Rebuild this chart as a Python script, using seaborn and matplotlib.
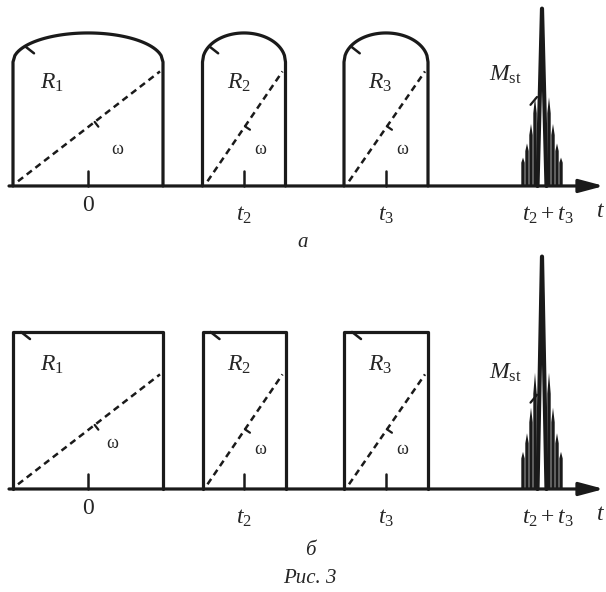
import numpy as np
import matplotlib.pyplot as plt
import seaborn as sns

# pulse centres and widths (time units, 0 at the first pulse)
pulse_centers = [0.0, 1.56, 2.98]
pulse_widths = [1.50, 0.83, 0.84]
pulse_names = ['$R_1$', '$R_2$', '$R_3$']
tick_labels = ['0', '$t_2$', '$t_3$']
spike_center = 4.54
spike_label = '$t_2+t_3$'

# panel a: rounded tops, panel б: flat tops
side_height_a = 0.79
arc_peak_a = 0.975
rect_height_b = 1.0

# output spike: side lobes (offset, fraction of peak) and main peak height
lobe_offsets = [-0.19, -0.15, -0.11, -0.07, 0.07, 0.11, 0.15, 0.19]
lobe_heights = [0.16, 0.24, 0.35, 0.50, 0.50, 0.35, 0.24, 0.16]
peak_a = 1.13
peak_b = 1.48

sns.set_theme(style='white')
plt.rcParams['font.family'] = ['Liberation Serif', 'DejaVu Serif']
plt.rcParams['mathtext.fontset'] = 'custom'
plt.rcParams['mathtext.rm'] = 'Liberation Serif'
plt.rcParams['mathtext.it'] = 'Liberation Serif:italic'

PX_X, PX_Y = 100.0, 157.0  # pixels per unit
LW = 2.3


def line(ax, xs, ys, **kw):
    sns.lineplot(x=np.asarray(xs, float), y=np.asarray(ys, float), sort=False,
                 estimator=None, color='k', lw=kw.pop('lw', LW), ax=ax, **kw)


def draw_panel(ax, rounded, peak, name_y, omega_y, mst_y):
    ax.set_xlim(-0.88, 5.18)
    ax.axis('off')

    for i, (c, w) in enumerate(zip(pulse_centers, pulse_widths)):
        l, r = c - w / 2, c + w / 2
        if rounded:
            u = np.linspace(-1, 1, 80)
            arc = side_height_a + (arc_peak_a - side_height_a) * np.sqrt(1 - u ** 2)
            xs = np.r_[l, c + u * w / 2, r]
            ys = np.r_[0, arc, 0]
            ux = -1 + 2 * 0.08
            tx0 = c + ux * w / 2
            ty0 = side_height_a + (arc_peak_a - side_height_a) * np.sqrt(1 - ux ** 2)
        else:
            top = rect_height_b
            xs = [l, l, r, r]
            ys = [0, top, top, 0]
            tx0, ty0 = l + 0.08, top
        line(ax, xs, ys)
        # small mark at the top-left corner
        line(ax, [tx0, tx0 + 0.09], [ty0, ty0 - 0.045], lw=1.8)

        # dashed phase line with its small cross mark
        x0, y0 = l + 0.05, 0.03
        x1, y1 = r - 0.03, 0.73
        line(ax, [x0, x1], [y0, y1], lw=1.8, linestyle=(0, (2.6, 1.8)))
        f = 0.5 if i else 0.54
        mx, my = x0 + f * (x1 - x0), y0 + f * (y1 - y0)
        dx, dy = (x1 - x0) * PX_X, (y1 - y0) * PX_Y
        n = np.hypot(dx, dy)
        px, py = dy / n * 6, -dx / n * 6
        line(ax, [mx, mx + px / PX_X], [my, my + py / PX_Y], lw=1.6)
        off = 0.29 if i == 0 else 0.16
        if not rounded and i == 0:
            off = 0.24
        ax.text(c + off, omega_y if i == 0 or rounded else omega_y - 0.04,
                'ω', ha='center', va='center', fontsize=13)

        # time tick and labels
        line(ax, [c, c], [0, 0.095], lw=1.8)
        ax.text(c, -0.185 if i else -0.125, tick_labels[i], ha='center',
                va='center', fontsize=17)
        nx = l + (0.39 if i == 0 else 0.36)
        ax.text(nx, name_y, pulse_names[i], ha='center', va='center', fontsize=17)

    # output spike: side lobes as thin filled peaks, main peak as outline
    for o, h in zip(lobe_offsets, lobe_heights):
        x = spike_center + o
        hh = h * peak
        ax.fill([x - 0.017, x - 0.017, x, x + 0.017, x + 0.017],
                [0, hh * 0.82, hh, hh * 0.82, 0], color='k', lw=0)
    line(ax, [spike_center - 0.045, spike_center, spike_center + 0.045],
         [0, peak, 0], lw=3.0)
    line(ax, [spike_center - 0.018, spike_center, spike_center + 0.018],
         [0.55 * peak, peak, 0.55 * peak], lw=2.0)

    ax.text(4.17, mst_y, r'$M_{\mathrm{st}}$', ha='center', va='center', fontsize=17)
    line(ax, [4.425, 4.49], [mst_y - 0.19, mst_y - 0.14], lw=1.6)

    # time axis with arrow
    ax.annotate('', xy=(5.16, 0), xytext=(-0.79, 0),
                arrowprops=dict(arrowstyle='-|>,head_length=0.75,head_width=0.2',
                                lw=LW, color='k', shrinkA=0, shrinkB=0,
                                mutation_scale=20))
    ax.text(4.60, -0.185, spike_label, ha='center', va='center', fontsize=17)
    ax.text(5.13, -0.16, '$t$', ha='center', va='center', fontsize=17)


fig = plt.figure(figsize=(6.06, 5.92), dpi=100)
ax_a = fig.add_axes([0, 342 / 592, 1, 250 / 592])
ax_b = fig.add_axes([0, 0, 1, 342 / 592])

draw_panel(ax_a, True, peak_a, name_y=0.66, omega_y=0.23, mst_y=0.707)
ax_a.set_ylim(-0.408, 1.185)
ax_a.text(2.15, -0.363, 'а', ha='center', va='center', fontsize=15, style='italic')

draw_panel(ax_b, False, peak_b, name_y=0.79, omega_y=0.29, mst_y=0.74)
ax_b.set_ylim(-0.656, 1.522)
ax_b.text(2.22, -0.389, 'б', ha='center', va='center', fontsize=15, style='italic')
ax_b.text(2.22, -0.567, 'Рис. 3', ha='center', va='center', fontsize=15, style='italic')

fig.savefig('out.png', dpi=100)
